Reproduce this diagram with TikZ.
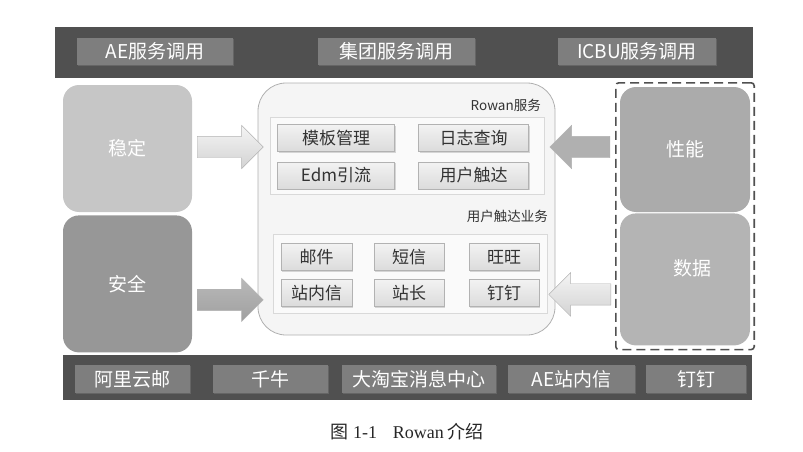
\documentclass[tikz,border=0pt]{standalone}
\usepackage{fontspec}
\newfontfamily\cjk{Noto Sans CJK SC}
\newfontfamily\capfont{Liberation Serif}
\usepackage{xcolor}
\definecolor{barGray}{HTML}{505050}
\definecolor{tagGray}{HTML}{7E7E7E}
\definecolor{stableGray}{HTML}{C6C6C6}
\definecolor{safeGray}{HTML}{979797}
\definecolor{perfGray}{HTML}{ABABAB}
\definecolor{dataGray}{HTML}{B4B4B4}
\definecolor{lineGray}{HTML}{B0B0B0}
\definecolor{inkGray}{HTML}{333333}
\usepackage{tikz}
\usetikzlibrary{shapes.arrows,positioning,fit,calc,shadows}

\begin{document}
\begin{tikzpicture}[
  x=1pt, y=-1pt,
  bar/.style={fill=barGray, inner sep=0pt},
  tag/.style={fill=tagGray, text=white, font=\cjk\fontsize{19}{19}\selectfont, minimum height=27pt, inner sep=1pt, drop shadow={opacity=0.45, shadow xshift=1.2pt, shadow yshift=-1.2pt}},
  block/.style={rounded corners=16pt, text=white, font=\cjk\fontsize{19}{19}\selectfont, minimum width=129pt, inner sep=0pt},
  rowanbox/.style={draw=lineGray, fill=gray!8, rounded corners=28pt, line width=0.8pt, inner sep=0pt},
  panel/.style={draw=gray!30, fill=gray!4, line width=0.6pt, inner sep=0pt},
  btn/.style={draw=gray!60, top color=gray!10, bottom color=gray!28, text=inkGray, font=\cjk\fontsize{17}{17}\selectfont, minimum height=27pt, inner sep=1pt, drop shadow={opacity=0.3, shadow xshift=1pt, shadow yshift=-1pt}},
  lbl/.style={text=inkGray, font=\cjk\fontsize{13.5}{14}\selectfont, inner sep=0pt, anchor=east},
  barrow/.style={single arrow, single arrow head extend=11pt, inner xsep=0pt, inner ysep=10.5pt, draw=gray!60},
  lightarrow/.style={barrow, top color=gray!8, bottom color=gray!35},
  darkarrow/.style={barrow, top color=gray!55, bottom color=gray!75}
]
\useasboundingbox (0,0) rectangle (803,452);

% top bar
\node[bar, minimum width=698pt, minimum height=51pt] (topbar) at (404,52.5) {};
\node[tag, minimum width=156pt] (tAE) at (155,51.5) {AE服务调用};
\node[tag, minimum width=157pt] (tGroup) at (396.5,51.5) {集团服务调用};
\node[tag, minimum width=158pt] (tICBU) at (637,51.5) {ICBU服务调用};

% left blocks
\node[block, fill=stableGray, minimum height=127pt] (stable) at (127.5,148.5) {稳定};
\node[block, fill=safeGray, minimum height=137pt, below=3pt of stable] (safe) {安全};

% right blocks
\node[block, fill=perfGray, minimum width=130pt, minimum height=125pt] (perf) at (685,149.5) {性能};
\node[block, fill=dataGray, minimum width=130pt, minimum height=132pt, text depth=24pt, below=1pt of perf] (data) {\hspace*{14pt}数据};
\node[draw=barGray, dashed, dash pattern=on 9pt off 5pt, line width=1.6pt, rounded corners=3pt, inner sep=4pt, fit=(perf)(data)] (grp) {};

% rowan service
\node[rowanbox, minimum width=297pt, minimum height=252pt] (rowan) at (406.5,209) {};
\node[lbl] (lRowan) at (541,105) {Rowan服务};
\node[panel, minimum width=274pt, minimum height=77pt] (p1) at (407,155.5) {};
\node[btn, minimum width=117pt] (tpl) at (336,138) {模板管理};
\node[btn, minimum width=110pt] (log) at (473.5,138) {日志查询};
\node[btn, minimum width=117pt] (edm) at (336,175.5) {Edm引流};
\node[btn, minimum width=110pt] (reach) at (473.5,175.5) {用户触达};

\node[lbl] (lReach) at (548,216) {用户触达业务};
\node[panel, minimum width=274pt, minimum height=79pt] (p2) at (410,273.5) {};
\node[btn, minimum width=71pt] (mail) at (316.5,257) {邮件};
\node[btn, minimum width=70pt] (sms) at (409,257) {短信};
\node[btn, minimum width=70pt] (ww) at (504,257) {旺旺};
\node[btn, minimum width=71pt] (inbox) at (316.5,293) {站内信};
\node[btn, minimum width=70pt] (admin) at (409,293) {站长};
\node[btn, minimum width=70pt] (ding) at (504,293) {钉钉};

% block arrows
\node[lightarrow, minimum height=66pt] (aStable) at ($(stable.east)!.5!(stable.east -| rowan.west)+(0,-1.5)$) {};
\node[darkarrow, minimum height=66pt] (aSafe) at ($(safe.east)!.5!(safe.east -| rowan.west)+(0,16)$) {};
\node[darkarrow, shape border rotate=180, top color=gray!62, bottom color=gray!62, minimum height=60pt] (aPerf) at ($(perf.west -| grp.west)!.5!(perf.west -| rowan.east)+(0,-2.5)$) {};
\node[lightarrow, shape border rotate=180, minimum height=62pt] (aData) at ($(data.west -| grp.west)!.5!(data.west -| rowan.east)+(0,15)$) {};

% bottom bar
\node[bar, minimum width=689pt, minimum height=45pt] (botbar) at (407.5,377.5) {};
\node[tag, minimum width=115pt, minimum height=28pt] (bMail) at (132.5,379) {阿里云邮};
\node[tag, minimum width=115pt, minimum height=28pt] (bQn) at (270.5,379) {千牛};
\node[tag, minimum width=154pt, minimum height=28pt] (bTao) at (419,379) {大淘宝消息中心};
\node[tag, minimum width=127pt, minimum height=28pt] (bAE) at (571.5,379) {AE站内信};
\node[tag, minimum width=100pt, minimum height=28pt] (bDing) at (696,379) {钉钉};

% caption
\node[font=\fontsize{18}{18}\selectfont, text=black!85] (cap) at (407,432) {{\cjk 图}\hspace{5pt}{\capfont 1-1}\hspace{16pt}{\capfont Rowan}\hspace{4pt}{\cjk 介绍}};
\end{tikzpicture}
\end{document}
